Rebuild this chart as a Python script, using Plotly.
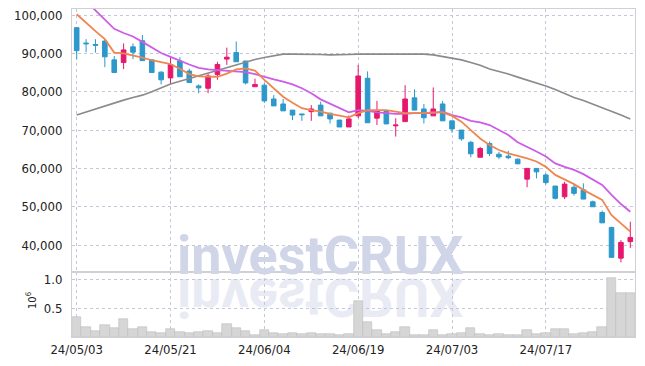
import base64
import plotly.graph_objects as go

dates = ["2024-05-03","2024-05-07","2024-05-08","2024-05-09","2024-05-10","2024-05-13","2024-05-14","2024-05-16","2024-05-17","2024-05-20",
         "2024-05-21","2024-05-22","2024-05-23","2024-05-24","2024-05-27","2024-05-28","2024-05-29","2024-05-30","2024-05-31","2024-06-03",
         "2024-06-04","2024-06-05","2024-06-07","2024-06-10","2024-06-11","2024-06-12","2024-06-13","2024-06-14","2024-06-17","2024-06-18",
         "2024-06-19","2024-06-20","2024-06-21","2024-06-24","2024-06-25","2024-06-26","2024-06-27","2024-06-28","2024-07-01","2024-07-02",
         "2024-07-03","2024-07-04","2024-07-05","2024-07-08","2024-07-09","2024-07-10","2024-07-11","2024-07-12","2024-07-15","2024-07-16",
         "2024-07-17","2024-07-18","2024-07-19","2024-07-22","2024-07-23","2024-07-24","2024-07-25","2024-07-26","2024-07-29","2024-07-30"]

open_ = [96700, 92700, 92300, 93200, 88300, 87600, 91700, 93300, 88300, 85100,
         83600, 88000, 85400, 81500, 80900, 84500, 88500, 90200, 88000, 81300,
         81700, 78100, 76800, 75200, 74200, 74800, 76500, 74400, 72600, 70800,
         73700, 83500, 73100, 75000, 71100, 72200, 78400, 75500, 73700, 76800,
         72400, 70000, 66800, 62900, 66500, 63700, 63200, 62400, 57200, 60000,
         58300, 55400, 52600, 55100, 54400, 51300, 48500, 44600, 36600, 40900]
high = [96700, 93700, 93700, 93700, 89300, 92600, 92600, 94800, 88500, 85300,
        89000, 89000, 86000, 81900, 84800, 87800, 91500, 93100, 88000, 83400,
        82200, 79100, 78100, 75200, 74200, 76500, 77400, 74400, 72600, 73800,
        87000, 85300, 77600, 75200, 73100, 81700, 80600, 76800, 81100, 77600,
        72400, 70000, 67200, 65600, 67000, 64300, 64600, 62600, 60000, 60000,
        58700, 55400, 56500, 55700, 56100, 51600, 49000, 44800, 41300, 46100]
low = [88500, 90300, 90200, 86400, 84900, 85900, 88500, 88100, 84900, 81900,
       81900, 83900, 82300, 79600, 79600, 83100, 87000, 87800, 81900, 81300,
       77100, 76300, 75000, 72600, 72400, 72400, 73700, 71700, 70800, 70800,
       73100, 71900, 71300, 71600, 68300, 72200, 75200, 71700, 73700, 72400,
       69300, 67200, 62900, 62900, 63200, 62400, 62400, 61100, 55100, 57400,
       55800, 51900, 52000, 52900, 52000, 50000, 45800, 36800, 35500, 39200]
close = [90700, 92500, 92100, 89100, 85000, 90900, 90300, 88100, 85000, 83100,
         87100, 83900, 82400, 81000, 84100, 87100, 89000, 87800, 82300, 81900,
         77600, 76300, 75000, 73900, 74000, 75500, 73700, 72900, 70800, 72900,
         84100, 71900, 75000, 71600, 71300, 78100, 75200, 73200, 75500, 72400,
         70300, 67700, 63800, 65200, 63900, 63000, 62800, 61200, 60000, 59100,
         56300, 52200, 55900, 53500, 52000, 50000, 45800, 36800, 40700, 42000]
volume = [345000, 172000, 109000, 207000, 155000, 310000, 138000, 172000, 91000, 69000,
          138000, 86000, 69000, 86000, 109000, 69000, 224000, 155000, 109000, 28000,
          121000, 69000, 52000, 69000, 52000, 69000, 52000, 52000, 40000, 57000,
          626000, 259000, 126000, 57000, 91000, 172000, 34000, 34000, 121000, 34000,
          57000, 74000, 155000, 57000, 34000, 52000, 34000, 34000, 121000, 57000,
          74000, 138000, 138000, 57000, 74000, 91000, 172000, 1017000, 759000, 759000]
ma_short = [100200, 97900, 95800, 93700, 90200, 90000, 89500, 88900, 88200, 87700,
            87200, 86000, 84600, 84000, 83900, 83900, 84700, 85800, 86100, 85500,
            83100, 80900, 78700, 77100, 75700, 75200, 74800, 74200, 73700, 73300,
            74400, 75200, 75200, 75200, 74800, 74400, 74400, 74400, 74600, 74600,
            73700, 72200, 70000, 67800, 66100, 64800, 63900, 63300, 62600, 61800,
            60400, 58300, 57200, 55900, 54400, 53100, 51800, 47800, 45700, 43500]
ma_mid = [106000, 103600, 101200, 98700, 96400, 95300, 94400, 93000, 91500, 90100,
          89100, 88000, 87100, 86200, 85800, 85600, 85400, 85200, 85100, 84600,
          83800, 83200, 82600, 81900, 80900, 79600, 78000, 76800, 75700, 74600,
          75200, 75000, 74600, 74400, 74200, 74200, 74400, 74400, 74400, 74800,
          73900, 73300, 72400, 72000, 71300, 70000, 68700, 66800, 65700, 64400,
          63100, 61300, 60400, 59600, 58500, 57200, 55700, 53100, 50700, 48700]
ma_long = [73900, 74700, 75600, 76400, 77100, 77800, 78500, 79100, 80000, 81100,
           82000, 82700, 83400, 84100, 84900, 85700, 86400, 87000, 87700, 88400,
           88900, 89400, 89800, 89800, 89800, 89700, 89700, 89600, 89600, 89700,
           89800, 89800, 89800, 89900, 89900, 89900, 89900, 89800, 89600, 89200,
           88800, 88300, 87600, 86900, 85900, 85300, 84600, 83800, 83100, 82300,
           81500, 80600, 79500, 78500, 77700, 76800, 75900, 75000, 73900, 72900]

tick_dates = ["2024-05-03", "2024-05-21", "2024-06-04", "2024-06-19", "2024-07-03", "2024-07-17"]
tick_text = [d[2:].replace("-", "/") for d in tick_dates]
price_ticks = [40000, 50000, 60000, 70000, 80000, 90000, 100000]
volume_ticks = [0.5, 1.0]
watermark = "investCRUX"

UP = "#e6186c"
DOWN = "#2c98cb"
FONT = "DejaVu Sans Condensed, sans-serif"
WM_FONT = "Roboto"
GRID = "#c6c6da"
BORDER = "#cfcfd6"

fig = go.Figure()

fig.add_trace(go.Bar(
    x=dates, y=[v / 1e6 for v in volume], xaxis="x", yaxis="y",
    marker=dict(color="#d6d6d6", line=dict(color="#bdbdbd", width=0.6)),
    showlegend=False, hoverinfo="skip"))

fig.add_trace(go.Scatter(x=dates, y=ma_long, xaxis="x2", yaxis="y2", mode="lines",
                         line=dict(color="#8a8a8a", width=1.6), showlegend=False))
fig.add_trace(go.Scatter(x=dates, y=ma_mid, xaxis="x2", yaxis="y2", mode="lines",
                         line=dict(color="#cc5ce8", width=1.8), showlegend=False))
fig.add_trace(go.Scatter(x=dates, y=ma_short, xaxis="x2", yaxis="y2", mode="lines",
                         line=dict(color="#ef8650", width=1.8), showlegend=False))

fig.add_trace(go.Candlestick(
    x=dates, open=open_, high=high, low=low, close=close, xaxis="x2", yaxis="y2",
    increasing=dict(line=dict(color=UP, width=1), fillcolor=UP),
    decreasing=dict(line=dict(color=DOWN, width=1), fillcolor=DOWN),
    whiskerwidth=0, showlegend=False))

xcommon = dict(type="category", range=[-0.5, len(dates) - 0.5], tickmode="array",
               tickvals=tick_dates, showgrid=True, gridcolor=GRID, griddash="dot", gridwidth=1,
               showline=True, linecolor=BORDER, mirror=True, ticks="", zeroline=False,
               rangeslider=dict(visible=False), automargin=False, ticklabeloverflow="allow")
ycommon = dict(showgrid=True, gridcolor=GRID, griddash="dot", showline=True, linecolor=BORDER,
               mirror=True, ticks="", zeroline=False, ticklabelstandoff=6, automargin=False,
               ticklabeloverflow="allow")

# decorative mirrored reflection of the watermark
svg = ("<svg xmlns='http://www.w3.org/2000/svg' width='400' height='60' viewBox='0 0 400 60'>"
       "<text x='200' y='-1' transform='scale(1,-1)' text-anchor='middle' "
       "font-family='Roboto' font-weight='bold' font-size='54' "
       "fill='#e8ebf4'>" + watermark + "</text></svg>")
src = "data:image/svg+xml;base64," + base64.b64encode(svg.encode()).decode()

# the page body has an 8px margin, so the figure is sized/placed to compensate
fig.update_layout(
    width=637, height=358,
    margin=dict(l=64, r=10, t=1, b=29, autoexpand=False),
    paper_bgcolor="white", plot_bgcolor="white",
    bargap=0, showlegend=False,
    font=dict(family=FONT, size=13, color="#222222"),
    xaxis=dict(**xcommon, ticktext=tick_text, anchor="y",
               tickfont=dict(family=FONT, size=13, color="#222222")),
    xaxis2=dict(**xcommon, ticktext=tick_text, showticklabels=False, anchor="y2", matches="x"),
    yaxis=dict(**ycommon, domain=[0, 0.198], range=[0, 1.125], tickvals=volume_ticks,
               ticktext=["0.5", "1.0"]),
    yaxis2=dict(**ycommon, domain=[0.198, 1], range=[32970, 101565],
                tickvals=price_ticks, tickformat=",d"),
    annotations=[
        dict(text=watermark, xref="paper", yref="paper", x=0.441, y=0.249,
             xanchor="center", yanchor="middle", showarrow=False,
             font=dict(family=WM_FONT, size=54, color="#d0d6e8", weight="bold")),
        dict(text="10<sup>6</sup>", xref="paper", yref="paper", x=-0.071, y=0.11,
             xanchor="center", yanchor="middle", showarrow=False, textangle=-90,
             font=dict(family=FONT, size=11, color="#222222")),
    ],
    images=[dict(source=src, xref="paper", yref="paper", x=0.441, y=0.181, sizex=400/563, sizey=60/328,
                 xanchor="center", yanchor="top", sizing="stretch", layer="below")],
)

fig.write_html("out.html")
